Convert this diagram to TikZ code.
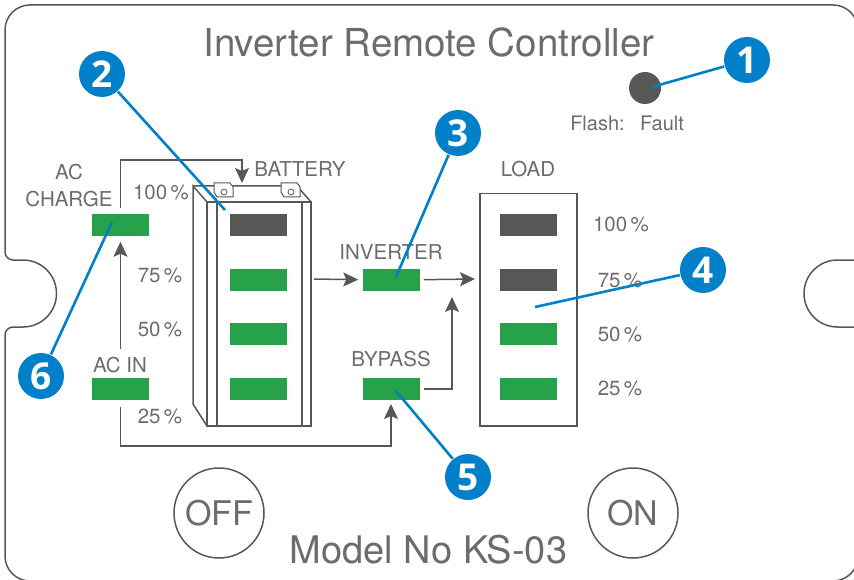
\documentclass[tikz,border=0pt]{standalone}
\usepackage{fontspec}
\setmainfont{TeX Gyre Heros}
\newfontfamily\calloutfont{Open Sans}
\usetikzlibrary{arrows.meta}
\usetikzlibrary{positioning}
\definecolor{linegray}{HTML}{575756}
\definecolor{textgray}{HTML}{6C6C6B}
\definecolor{ledgreen}{HTML}{27A24B}
\definecolor{calloutblue}{HTML}{0080C9}

\begin{document}
\begin{tikzpicture}[x=1pt,y=-1pt,>={Stealth[length=15pt,width=14pt,inset=3pt]},node distance=54.7pt,
                        line width=1.5pt,draw=linegray,
                        bar node/.style={rectangle,fill=ledgreen,inner sep=0pt,minimum width=57pt,minimum height=22pt},
                        dark node/.style={bar node,fill=linegray},
                        text node/.style={anchor=base,inner sep=0pt,text=textgray,font=\fontsize{20.5}{25}\selectfont},
                        big node/.style={anchor=base,inner sep=0pt,text=textgray,font=\fontsize{38.5}{44}\selectfont},
                        button node/.style={circle,draw=linegray,inner sep=0pt,minimum size=90pt,text=textgray,font=\fontsize{34}{40}\selectfont},
                        callout node/.style={circle,fill=calloutblue,inner sep=0pt,minimum size=46pt,text=white,font=\calloutfont\bfseries\fontsize{37}{42}\selectfont},
                        callout line/.style={draw=calloutblue,line width=2.6pt},
                        flow line/.style={draw=linegray,->}]
      \useasboundingbox (0,0) rectangle (854,580);

      % outer case
      \draw[linegray] (30,5) -- (833,5) arc[start angle=-90,end angle=0,radius=25] -- (858,260)
        -- (837.5,260) arc[start angle=-90,end angle=-270,radius=33.5] -- (858,327)
        -- (858,556) arc[start angle=0,end angle=90,radius=25] -- (30,581)
        arc[start angle=90,end angle=180,radius=25] -- (5,335)
        arc[start angle=180,end angle=270,radius=8] -- (23,327)
        arc[start angle=90,end angle=-90,radius=33.5] -- (13,260)
        arc[start angle=90,end angle=180,radius=8] -- (5,30)
        arc[start angle=180,end angle=270,radius=25] -- cycle;

      % battery
      \draw[linegray] (207,202) rectangle (311,426);
      \draw[linegray] (217,202) -- (217,426) (302,202) -- (302,426);
      \draw[linegray] (207,202) -- (193,186) -- (193,404) -- (207,426);
      \draw[linegray] (193,186) -- (297,186) -- (311,202);
      \foreach \x in {214,281} {
        \draw[linegray,line width=1pt,fill=white] (\x,183) -- (\x+16,183) -- (\x+19,187) -- (\x+19,197) -- (\x+3,197) -- (\x,192) -- cycle;
        \draw[linegray,line width=0.8pt] (\x+10,192) circle[radius=3];
      }
      % load box
      \draw[linegray] (480,193.5) rectangle (577,426);

      % bars
      \node[dark node] (b1) at (258.5,225) {};
      \node[bar node] (b2) [below of=b1] {};
      \node[bar node] (b3) [below of=b2] {};
      \node[bar node] (b4) [below of=b3] {};
      \node[dark node] (l1) [right of=b1,node distance=270pt] {};
      \node[dark node] (l2) [right of=b2,node distance=270pt] {};
      \node[bar node] (l3) [right of=b3,node distance=270pt] {};
      \node[bar node] (l4) [right of=b4,node distance=270pt] {};
      \node[bar node] (inverter) [right of=b2,node distance=133pt] {};
      \node[bar node] (bypass) [right of=b4,node distance=133pt] {};
      \node[bar node] (accharge) [left of=b1,node distance=138pt] {};
      \node[bar node] (acin) [left of=b4,node distance=138pt] {};
      \node[circle,fill=linegray,inner sep=0pt,minimum size=32pt] (led) at (645,88) {};
      \node[button node] (off) at (219,513) {OFF};
      \node[button node] (on) at (633,513) {ON};

      % labels
      \node[big node] (title) at (429,57) {Inverter Remote Controller};
      \node[big node,font=\fontsize{38}{44}\selectfont] (model) at (428.5,563) {Model No KS-03};
      \node[text node,font=\fontsize{20}{24}\selectfont] (flash) at (597.5,131) {Flash:};
      \node[text node,font=\fontsize{20}{24}\selectfont] (fault) at (662,131) {Fault};
      \node[text node] (ac) at (69,180) {AC};
      \node[text node] (charge) at (69,207) {CHARGE};
      \node[text node] (acinlabel) at (120,372) {AC IN};
      \node[text node] (battery) at (300,177) {BATTERY};
      \node[text node] (load) at (528,177) {LOAD};
      \node[text node] (inverterlabel) at (391,259) {INVERTER};
      \node[text node] (bypasslabel) at (391,366) {BYPASS};
      \node[text node] (p1) at (161,200) {100\,\%};
      \node[text node] (p2) at (160,282) {75\,\%};
      \node[text node] (p3) at (160,336) {50\,\%};
      \node[text node] (p4) at (160,423) {25\,\%};
      \node[text node] (q1) at (621,232) {100\,\%};
      \node[text node] (q2) at (620,287) {75\,\%};
      \node[text node] (q3) at (620,341) {50\,\%};
      \node[text node] (q4) at (620,395) {25\,\%};

      % flows
      \draw[flow line,shorten <=28pt,shorten >=5pt] (acin.north) -- (accharge.south);
      \draw[flow line,shorten <=5pt] (accharge.north) -- ++(0,-53) -| (242,183);
      \draw[flow line,shorten <=6pt] (acin.south) -- ++(0,45) -| (391,404);
      \draw[flow line,shorten <=3pt,shorten >=4pt] (311,279) -- (inverter.west);
      \coordinate (loadin) at (475,279);
      \draw[flow line,shorten <=3pt] (inverter.east) -- (loadin);
      \coordinate (merge) at (452,297);
      \draw[flow line,shorten <=3pt] (bypass.east) -| (merge);

      % callouts
      \coordinate (t1) at (652,87);
      \coordinate (t2) at (225,210);
      \coordinate (t3) at (396,277);
      \coordinate (t4) at (535,307);
      \coordinate (t5) at (396,391);
      \coordinate (t6) at (112,222);
      \node[callout node] (c1) at (747,60) {1};
      \node[callout node] (c2) at (102,74) {2};
      \node[callout node] (c3) at (458,133) {3};
      \node[callout node] (c4) at (703,270) {4};
      \node[callout node] (c5) at (468,477) {5};
      \node[callout node] (c6) at (41,376) {6};
      \path[callout line]
        (c1) edge (t1)
        (c2) edge (t2)
        (c3) edge (t3)
        (c4) edge (t4)
        (c5) edge (t5)
        (c6) edge (t6);
\end{tikzpicture}
\end{document}
